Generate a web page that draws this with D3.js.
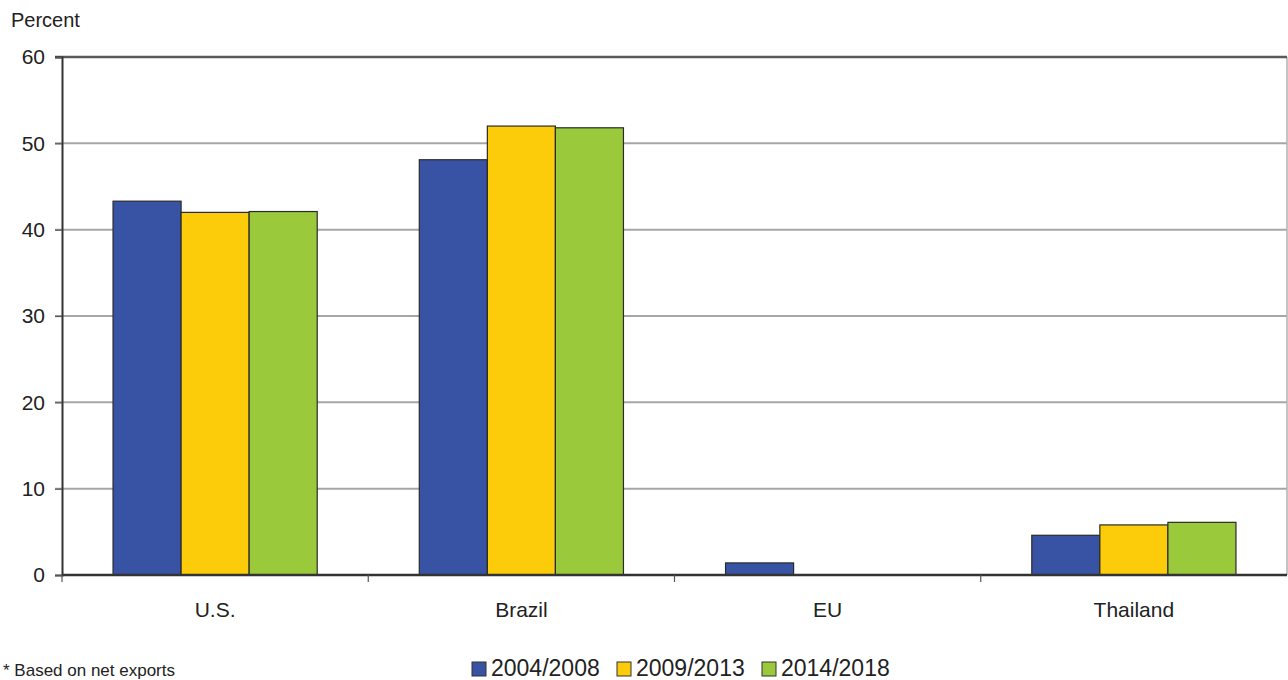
<!DOCTYPE html>
<html><head><meta charset="utf-8">
<script src="https://cdn.jsdelivr.net/npm/d3@7"></script>
<style>body{margin:0;background:#fff;}svg{display:block;font-family:"Liberation Sans",Arial,sans-serif;}</style>
</head><body><svg id="c" width="1288" height="680"></svg>
<script>
const categories = ["U.S.", "Brazil", "EU", "Thailand"];
const seriesNames = ["2004/2008", "2009/2013", "2014/2018"];
const s2004 = [43.3, 48.1, 1.4, 4.6];
const s2009 = [42.0, 52.0, 0, 5.8];
const s2014 = [42.1, 51.8, 0, 6.1];
const yTicks = [0, 10, 20, 30, 40, 50, 60];
const colors = ["#3953a4", "#fccb0a", "#9aca3c"];
const series = [s2004, s2009, s2014];

const svg = d3.select("#c");
const L = 62, R = 1287, T = 57, B = 575;
const x = d3.scaleBand().domain(categories).range([L, R]).padding(0);
const xi = d3.scaleBand().domain(seriesNames).range([x.bandwidth()/6, x.bandwidth()*5/6]).padding(0);
const y = d3.scaleLinear().domain([0, 60]).range([B, T]);
const FONT = "Liberation Sans, Arial, sans-serif";

// gridlines
svg.append("g").selectAll("line").data(yTicks.filter(t => t > 0 && t < 60)).join("line")
  .attr("x1", L - 7).attr("x2", R).attr("y1", d => y(d)).attr("y2", d => y(d))
  .attr("stroke", "#a6a6a6").attr("stroke-width", 2);
// right border
svg.append("line").attr("x1", R).attr("x2", R).attr("y1", T).attr("y2", B).attr("stroke", "#b0b0b0").attr("stroke-width", 1.5);
// top line
svg.append("line").attr("x1", L - 7).attr("x2", R).attr("y1", T).attr("y2", T).attr("stroke", "#5a5a5a").attr("stroke-width", 2.5);

// bars
const g = svg.append("g");
series.forEach((s, si) => {
  g.append("g").selectAll("rect").data(categories.map((c, i) => ({c, v: s[i]})).filter(d => d.v > 0)).join("rect")
    .attr("x", d => x(d.c) + xi(seriesNames[si]))
    .attr("y", d => y(d.v))
    .attr("width", xi.bandwidth())
    .attr("height", d => B - y(d.v))
    .attr("fill", colors[si])
    .attr("stroke", "#2a2a2a").attr("stroke-width", 1.2);
});

// y axis
const yAxis = svg.append("g").attr("transform", `translate(${L},0)`)
  .call(d3.axisLeft(y).tickValues(yTicks).tickSize(7).tickPadding(10));
yAxis.attr("font-size", null).attr("font-family", null);
yAxis.select(".domain").attr("stroke", "#333").attr("stroke-width", 2);
yAxis.selectAll(".tick line").attr("stroke", "#555").attr("stroke-width", 1.2);
yAxis.selectAll("text").attr("font-size", 21).attr("fill", "#222").attr("font-family", FONT);

// x axis
const xAxis = svg.append("g").attr("transform", `translate(0,${B})`)
  .call(d3.axisBottom(x).tickSize(0).tickPadding(27));
xAxis.attr("font-size", null).attr("font-family", null);
xAxis.select(".domain").attr("d", `M${L},0H${R}`).attr("stroke", "#333").attr("stroke-width", 2.5);
xAxis.selectAll("text").attr("font-size", 21).attr("fill", "#222").attr("font-family", FONT);
const bounds = categories.map(c => x(c));
svg.append("g").selectAll("line").data(bounds).join("line")
  .attr("x1", d => d).attr("x2", d => d).attr("y1", B).attr("y2", B + 7)
  .attr("stroke", "#555").attr("stroke-width", 1.2);

// y title
svg.append("text").attr("x", 11).attr("y", 27).attr("font-size", 20).attr("fill", "#222").attr("font-family", FONT).text("Percent");

// footnote
svg.append("text").attr("x", 3).attr("y", 676).attr("font-size", 17).attr("fill", "#222").attr("font-family", FONT).text("* Based on net exports");

// legend
const legX = [472, 617, 762];
const lg = svg.append("g");
seriesNames.forEach((n, i) => {
  lg.append("rect").attr("x", legX[i]).attr("y", 662).attr("width", 14).attr("height", 14)
    .attr("fill", colors[i]).attr("stroke", "#333").attr("stroke-width", 1);
  lg.append("text").attr("x", legX[i] + 19).attr("y", 676).attr("font-size", 23).attr("fill", "#222").attr("font-family", FONT).text(n);
});
</script></body></html>
